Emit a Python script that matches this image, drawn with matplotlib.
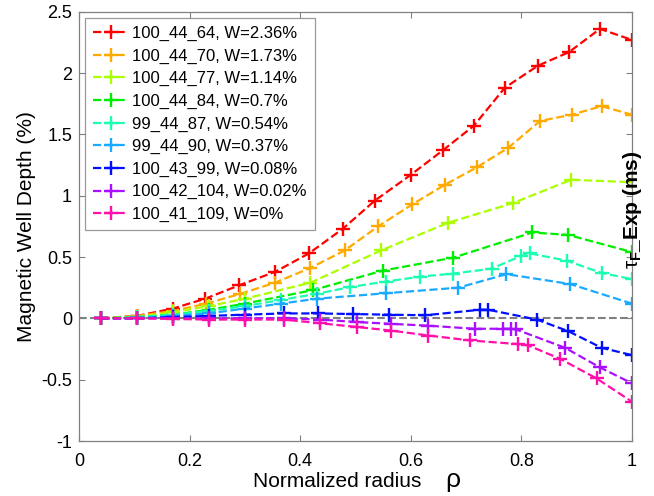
import matplotlib
matplotlib.use("Agg")
import matplotlib.pyplot as plt

plt.rcParams["font.family"] = ["Liberation Sans", "DejaVu Sans"]
plt.rcParams["mathtext.fontset"] = "custom"
plt.rcParams["mathtext.rm"] = "Liberation Sans"
plt.rcParams["mathtext.it"] = "Liberation Sans"
plt.rcParams["mathtext.bf"] = "Liberation Sans:bold"

labels = [
    "100_44_64, W=2.36%",
    "100_44_70, W=1.73%",
    "100_44_77, W=1.14%",
    "100_44_84, W=0.7%",
    "99_44_87, W=0.54%",
    "99_44_90, W=0.37%",
    "100_43_99, W=0.08%",
    "100_42_104, W=0.02%",
    "100_41_109, W=0%",
]
colors = ["#ff0000", "#ffaa00", "#aaff00", "#00ee00", "#1affb0",
          "#1aaaff", "#0010ff", "#aa10ff", "#ff10aa"]

rho_64 = [0.04, 0.105, 0.17, 0.228, 0.29, 0.355, 0.416, 0.477, 0.535, 0.6,
          0.658, 0.714, 0.77, 0.83, 0.886, 0.942, 1.0]
depth_64 = [0.0, 0.02, 0.08, 0.16, 0.27, 0.38, 0.53, 0.73, 0.96, 1.17,
            1.37, 1.57, 1.88, 2.06, 2.17, 2.36, 2.27]

rho_70 = [0.04, 0.105, 0.17, 0.23, 0.292, 0.354, 0.418, 0.481, 0.541, 0.603,
          0.662, 0.719, 0.776, 0.834, 0.891, 0.945, 1.0]
depth_70 = [0.0, 0.02, 0.06, 0.12, 0.2, 0.29, 0.41, 0.555, 0.75, 0.93,
            1.09, 1.23, 1.39, 1.61, 1.66, 1.73, 1.66]

rho_77 = [0.04, 0.105, 0.17, 0.235, 0.30, 0.418, 0.547, 0.668, 0.785, 0.89, 1.0]
depth_77 = [0.0, 0.01, 0.05, 0.1, 0.16, 0.29, 0.555, 0.78, 0.94, 1.13, 1.11]

rho_84 = [0.04, 0.105, 0.17, 0.235, 0.30, 0.423, 0.55, 0.677, 0.82, 0.885, 1.0]
depth_84 = [0.0, 0.01, 0.03, 0.07, 0.12, 0.23, 0.39, 0.495, 0.70, 0.68, 0.54]

rho_87 = [0.04, 0.105, 0.17, 0.235, 0.30, 0.365, 0.43, 0.49, 0.555, 0.617,
          0.677, 0.746, 0.80, 0.815, 0.882, 0.945, 1.0]
depth_87 = [0.0, 0.01, 0.03, 0.06, 0.1, 0.15, 0.2, 0.255, 0.3, 0.34,
            0.365, 0.405, 0.51, 0.53, 0.47, 0.37, 0.32]

rho_90 = [0.04, 0.105, 0.17, 0.235, 0.30, 0.365, 0.43, 0.556, 0.686, 0.773, 0.888, 1.0]
depth_90 = [0.0, 0.0, 0.02, 0.04, 0.08, 0.12, 0.16, 0.205, 0.25, 0.36, 0.28, 0.12]

rho_99 = [0.04, 0.105, 0.17, 0.235, 0.30, 0.37, 0.433, 0.495, 0.56, 0.626,
          0.725, 0.74, 0.828, 0.885, 0.945, 1.0]
depth_99 = [0.0, 0.0, 0.01, 0.02, 0.03, 0.04, 0.04, 0.035, 0.03, 0.025,
            0.07, 0.07, -0.01, -0.105, -0.24, -0.30]

rho_104 = [0.04, 0.105, 0.17, 0.235, 0.30, 0.37, 0.436, 0.502, 0.565, 0.632,
           0.716, 0.767, 0.782, 0.79, 0.879, 0.942, 1.0]
depth_104 = [0.0, 0.0, 0.0, 0.0, 0.0, 0.0, -0.01, -0.03, -0.045, -0.06,
             -0.085, -0.085, -0.085, -0.09, -0.24, -0.40, -0.53]

rho_109 = [0.04, 0.105, 0.17, 0.235, 0.30, 0.37, 0.436, 0.502, 0.565, 0.632,
           0.707, 0.794, 0.812, 0.87, 0.936, 1.0]
depth_109 = [0.0, 0.0, -0.005, -0.01, -0.01, -0.01, -0.04, -0.07, -0.10, -0.14,
             -0.18, -0.21, -0.22, -0.33, -0.49, -0.68]

rhos = [rho_64, rho_70, rho_77, rho_84, rho_87, rho_90, rho_99, rho_104, rho_109]
depths = [depth_64, depth_70, depth_77, depth_84, depth_87, depth_90,
          depth_99, depth_104, depth_109]

xticks = [0, 0.2, 0.4, 0.6, 0.8, 1]
xticklabels = ["0", "0.2", "0.4", "0.6", "0.8", "1"]
yticks = [-1, -0.5, 0, 0.5, 1, 1.5, 2, 2.5]
yticklabels = ["-1", "-0.5", "0", "0.5", "1", "1.5", "2", "2.5"]

fig = plt.figure(figsize=(6.54, 4.96), dpi=100)
ax = fig.add_axes([79 / 654, 55 / 496, 553 / 654, 429.3 / 496])

ax.axhline(0, color="#808080", linestyle="--", linewidth=1.5, zorder=1)
for x, y, lab, col in zip(rhos, depths, labels, colors):
    ax.plot(x, y, linestyle="--", color=col, linewidth=1.6, marker="+",
            markersize=10, markeredgewidth=1.7, label=lab, zorder=2)

ax.set_xlim(0, 1)
ax.set_ylim(-1, 2.5)
ax.set_xticks(xticks)
ax.set_xticklabels(xticklabels)
ax.set_yticks(yticks)
ax.set_yticklabels(yticklabels)
ax.tick_params(direction="in", length=4, width=0.8, color="#808080",
               top=True, right=True, labelsize=13)
ax.tick_params(axis="x", pad=9)
ax.tick_params(axis="y", pad=5)
for sp in ax.spines.values():
    sp.set_color("#808080")
    sp.set_linewidth(0.9)

ax.set_ylabel("Magnetic Well Depth (%)", fontsize=15, labelpad=4)
ax.text(0.315, -0.108, "Normalized radius", transform=ax.transAxes,
        fontsize=15, ha="left", va="baseline")
ax.text(0.662, -0.108, "ρ", transform=ax.transAxes, fontsize=19,
        ha="left", va="baseline")

leg = ax.legend(loc="upper left", fontsize=12, frameon=True, fancybox=False,
                borderaxespad=0.35, handlelength=2.1, handletextpad=0.25,
                labelspacing=0.45, borderpad=0.5)
leg.get_frame().set_edgecolor("#808080")
leg.get_frame().set_linewidth(0.9)

fig.text(632 / 654, 1 - 210 / 496, r"$\tau_\mathbf{F}$_Exp (ms)", rotation=90,
         fontsize=15, fontweight="bold", ha="center", va="center")

fig.savefig("out.png", dpi=100)
